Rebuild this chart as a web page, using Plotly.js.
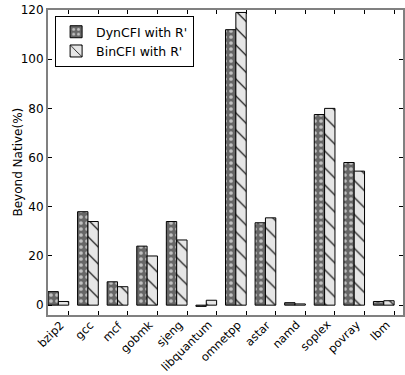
<!DOCTYPE html>
<html><head><meta charset="utf-8">
<script src="https://cdn.plot.ly/plotly-3.0.1.min.js"></script>
<style>html,body{margin:0;padding:0;background:#fff;}#chart{width:405px;height:375px;}</style>
</head><body><div id="chart"></div>
<script>
const categories = ["bzip2","gcc","mcf","gobmk","sjeng","libquantum","omnetpp","astar","namd","soplex","povray","lbm"];
const dynValues = [5.5, 38, 9.5, 24, 34, -0.5, 112, 33.5, 1, 77.5, 58, 1.5];
const binValues = [1.5, 34, 7.5, 20, 26.5, 2, 119, 35.5, 0.5, 80, 54.5, 1.8];
const seriesNames = ["DynCFI with R'", "BinCFI with R'"];
const yTicks = [0, 20, 40, 60, 80, 100, 120];
const yTitle = "Beyond Native(%)";

const W = 0.35;
const idx = categories.map((c, i) => i);
const font = {family: "DejaVu Sans, sans-serif", size: 12, color: "#000"};
const xfont = {family: "DejaVu Sans, sans-serif", size: 11.5, color: "#000"};

const traces = [
  {type: "bar", name: seriesNames[0], x: idx, y: dynValues, width: W, offset: 0,
   marker: {color: "#666", line: {color: "#000", width: 1},
            pattern: {shape: ".", fgcolor: "#c0c0c0", bgcolor: "#666", size: 6, solidity: 0.3}}},
  {type: "bar", name: seriesNames[1], x: idx, y: binValues, width: W, offset: W,
   marker: {color: "#e6e6e6", line: {color: "#000", width: 1},
            pattern: {shape: "\\", fgcolor: "#000", bgcolor: "#e6e6e6", size: 12, solidity: 0.1}}}
];

const annotations = categories.map((c, i) => ({
  text: c, x: i + 2 * W, xref: "x", y: 0, yref: "paper", yshift: 0, xshift: 1,
  textangle: -45, xanchor: "right", yanchor: "top", showarrow: false, font: xfont
}));
annotations.push({text: yTitle, x: 0, xref: "paper", xshift: -31, y: 0.5, yref: "paper",
  textangle: -90, xanchor: "center", yanchor: "middle", showarrow: false, font: font});

const layout = {
  width: 405, height: 375,
  margin: {l: 48, r: 2, t: 10, b: 60},
  paper_bgcolor: "#fff", plot_bgcolor: "#fff",
  barmode: "overlay",
  font: font,
  showlegend: true,
  annotations: annotations,
  legend: {x: 0.02, y: 0.98, xanchor: "left", yanchor: "top",
           bordercolor: "#000", borderwidth: 1, bgcolor: "#fff",
           font: {family: "DejaVu Sans, sans-serif", size: 12.5}, tracegroupgap: 0},
  xaxis: {range: [0, 12], tickvals: idx.map(i => i + 2 * W), showticklabels: false,
          ticks: "inside", ticklen: 4, tickcolor: "#000",
          showline: true, linecolor: "#808080", linewidth: 2, mirror: "ticks",
          showgrid: false, zeroline: false, automargin: false},
  yaxis: {range: [-4, 120], tickvals: yTicks, ticks: "inside", ticklen: 4, tickcolor: "#000",
          showline: true, linecolor: "#808080", linewidth: 2, mirror: "ticks",
          showgrid: false, zeroline: false, tickfont: font, automargin: false}
};

Plotly.newPlot("chart", traces, layout, {displayModeBar: false, staticPlot: true});
</script></body></html>
